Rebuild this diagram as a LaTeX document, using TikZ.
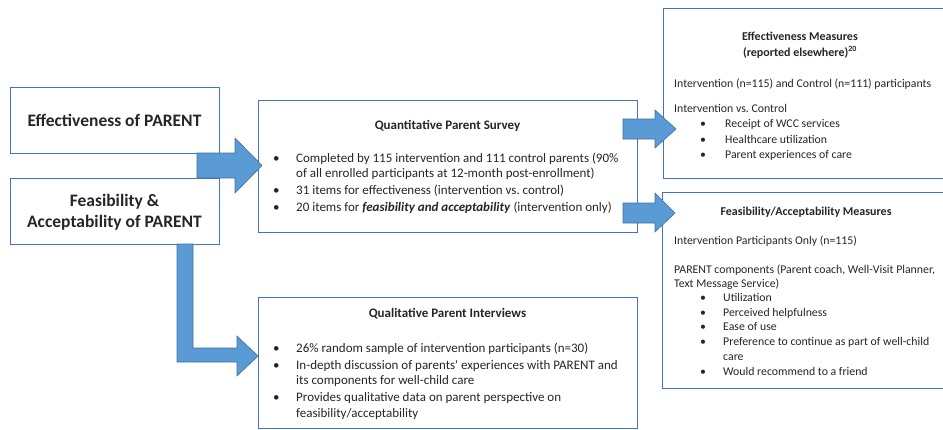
\documentclass[tikz,border=0pt]{standalone}
\usepackage{fontspec}
\setmainfont{Carlito}
\definecolor{boxblue}{HTML}{4472C4}
\definecolor{arrfill}{HTML}{5B9BD5}
\definecolor{arredge}{HTML}{41719C}
\definecolor{txt}{HTML}{262626}
\tikzset{
  box/.style={draw=boxblue, line width=1.1pt, anchor=north west, inner sep=0pt, fill=white},
  bigtitle/.style={font=\fontsize{17.5}{21}\selectfont\bfseries, text=txt, align=center, inner sep=0pt},
  head/.style={font=\fontsize{13}{16}\selectfont\bfseries, text=txt, align=center, inner sep=0pt},
  rhead/.style={font=\fontsize{12}{16}\selectfont\bfseries, text=txt, align=center, inner sep=0pt},
  body/.style={font=\fontsize{13}{15.5}\selectfont, text=txt, inner sep=0pt, anchor=base west},
  rbody/.style={font=\fontsize{11.8}{15.5}\selectfont, text=txt, inner sep=0pt, anchor=base west},
  rbodyb/.style={font=\fontsize{11.8}{14.7}\selectfont, text=txt, inner sep=0pt, anchor=base west},
  blockarrow/.style={fill=arrfill, draw=arredge, line width=0.6pt, line join=miter},
}
\begin{document}
\begin{tikzpicture}[x=1pt,y=-1pt]
\useasboundingbox (0,0) rectangle (943,429);
% boxes
\node[box, minimum width=209pt, minimum height=66pt] (eff) at (10,87) {};
\node[box, minimum width=209pt, minimum height=66pt] (feas) at (10,178) {};
\node[box, minimum width=379pt, minimum height=132pt] (survey) at (258,100) {};
\node[box, minimum width=379pt, minimum height=131pt] (interv) at (258,297) {};
\node[box, minimum width=300pt, minimum height=170pt] (effm) at (663,8) {};
\node[box, minimum width=300pt, minimum height=196pt] (feasm) at (662,192) {};
% arrows
\draw[blockarrow] (197,153) -- (235,153) -- (235,138) -- (262,165.5) -- (235,193) -- (235,178) -- (197,178) -- cycle;
\draw[blockarrow] (177,244) -- (177,362) -- (237,362) -- (237,376) -- (258,356) -- (237,336) -- (237,348) -- (193,348) -- (193,244) -- cycle;
\draw[blockarrow] (623,119) -- (655,119) -- (655,110) -- (676,129) -- (655,148) -- (655,139) -- (623,139) -- cycle;
\draw[blockarrow] (623,203) -- (655,203) -- (655,193) -- (675,213) -- (655,232) -- (655,223) -- (623,223) -- cycle;
% left titles
\node[bigtitle] (efft) at (114.5,120) {Effectiveness of PARENT};
\node[bigtitle] (feast) at (114.5,212.5) {Feasibility \&\\Acceptability of PARENT};
% survey
\node[head] (surveyt) at (447.5,126) {Quantitative Parent Survey};
\node[body] (surveyl) at (273,162) {\begin{tabular}[t]{@{}p{23pt}@{}l@{}}
\textbullet & Completed by 115 intervention and 111 control parents (90\%\\
 & of all enrolled participants at 12-month post-enrollment)\\[1.5pt]
\textbullet & 31 items for effectiveness (intervention vs.\ control)\\[1.5pt]
\textbullet & 20 items for \textbf{\textit{feasibility and acceptability}} (intervention only)
\end{tabular}};
% interviews
\node[head] (intervt) at (447.5,314) {Qualitative Parent Interviews};
\node[body] (intervl) at (273,352) {\begin{tabular}[t]{@{}p{23pt}@{}l@{}}
\textbullet & 26\% random sample of intervention participants (n=30)\\[1.5pt]
\textbullet & In-depth discussion of parents\textquotesingle{} experiences with PARENT and\\
 & its components for well-child care\\[1.5pt]
\textbullet & Provides qualitative data on parent perspective on\\
 & feasibility/acceptability
\end{tabular}};
% effectiveness measures
\node[rhead] (effmt) at (800,45) {Effectiveness Measures\\(reported elsewhere)\textsuperscript{20}};
\node[rbody] (effm1) at (674,87) {Intervention (n=115) and Control (n=111) participants};
\node[rbody] (effm2) at (674,112.5) {Intervention vs.\ Control};
\node[rbody] (effml) at (700,127.5) {\begin{tabular}[t]{@{}p{25pt}@{}l@{}}
\textbullet & Receipt of WCC services\\
\textbullet & Healthcare utilization\\
\textbullet & Parent experiences of care
\end{tabular}};
% feasibility measures
\node[rhead] (feasmt) at (806,212) {Feasibility/Acceptability Measures};
\node[rbodyb] (feasm1) at (674,244.5) {Intervention Participants Only (n=115)};
\node[rbodyb] (feasm2) at (674,273) {\begin{tabular}[t]{@{}l@{}}
PARENT components (Parent coach, Well-Visit Planner,\\
Text Message Service)
\end{tabular}};
\node[rbodyb] (feasml) at (700,301.5) {\begin{tabular}[t]{@{}p{23pt}@{}l@{}}
\textbullet & Utilization\\
\textbullet & Perceived helpfulness\\
\textbullet & Ease of use\\
\textbullet & Preference to continue as part of well-child\\
 & care\\
\textbullet & Would recommend to a friend
\end{tabular}};
\end{tikzpicture}
\end{document}
